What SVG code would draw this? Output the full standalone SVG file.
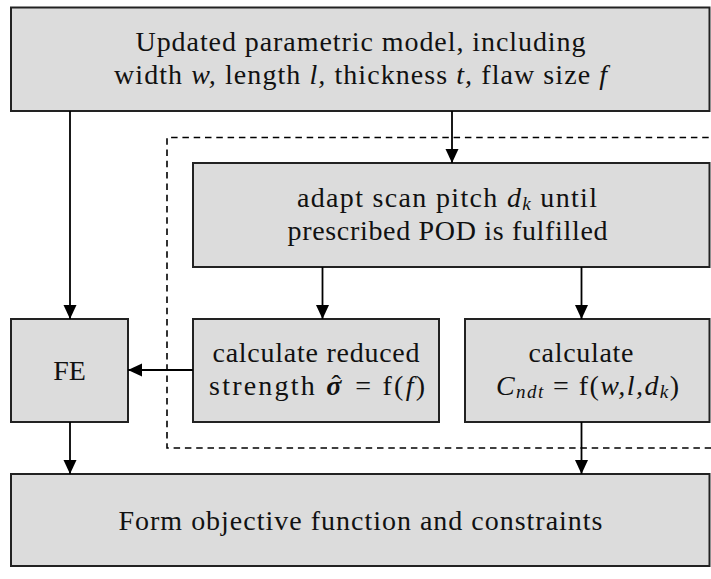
<svg xmlns="http://www.w3.org/2000/svg" width="711" height="579" viewBox="0 0 711 579">
<defs>
<style>
.box{fill:#dcdcdc;stroke:#222;stroke-width:2}
text{font-family:"Liberation Serif","DejaVu Serif",serif;font-size:28px;fill:#111;text-anchor:middle}
.i{font-style:italic}
.sub{font-size:19px;font-style:italic}
.ln{stroke:#000;stroke-width:1.8;fill:none}
.dash{stroke:#000;stroke-width:1.6;fill:none;stroke-dasharray:6.5 4.8}
</style>
<marker id="ah" markerUnits="userSpaceOnUse" markerWidth="14" markerHeight="14" refX="14" refY="6.5" orient="auto">
<path d="M0,0 L14,6.5 L0,13 Z" fill="#000"/>
</marker>
</defs>
<rect width="711" height="579" fill="#fff"/>
<g id="loop">
<path class="dash" d="M720,137.5 H167 V448 H720"/>
</g>
<g id="top">
<rect class="box" x="11" y="7.5" width="698.5" height="103.5"/>
<text x="360.5" y="50.5" textLength="450" lengthAdjust="spacing">Updated parametric model, including</text>
<text x="360.5" y="83.5" textLength="493" lengthAdjust="spacing">width <tspan class="i">w,</tspan> length <tspan class="i">l,</tspan> thickness <tspan class="i">t,</tspan> flaw size <tspan class="i">f</tspan></text>
</g>
<g id="adapt">
<rect class="box" x="193" y="163" width="516.5" height="104"/>
<text x="447" y="206.5" textLength="300" lengthAdjust="spacing">adapt scan pitch <tspan class="i">d</tspan><tspan class="sub" dy="3">k</tspan><tspan dy="-3"> until</tspan></text>
<text x="447.5" y="239.5" textLength="320" lengthAdjust="spacing">prescribed POD is fulfilled</text>
</g>
<g id="fe">
<rect class="box" x="11" y="319" width="117" height="103"/>
<text x="69.5" y="380">FE</text>
</g>
<g id="reduced">
<rect class="box" x="193" y="319" width="246" height="103"/>
<text x="316" y="362" textLength="207" lengthAdjust="spacing">calculate reduced</text>
<text x="317" y="395" textLength="216" lengthAdjust="spacing">strength <tspan font-weight="bold" font-style="italic">σ</tspan><tspan dx="-12" dy="-1">ˆ</tspan><tspan dx="3" dy="1"> = f(</tspan><tspan class="i">f</tspan>)</text>
</g>
<g id="cndt">
<rect class="box" x="465" y="319" width="244.5" height="103"/>
<text x="581" y="362" textLength="105" lengthAdjust="spacing">calculate</text>
<text x="587.5" y="395" textLength="183" lengthAdjust="spacing"><tspan class="i">C</tspan><tspan class="sub" dy="3">ndt</tspan><tspan dy="-3"> = f(</tspan><tspan class="i">w,l,d</tspan><tspan class="sub" dy="3">k</tspan><tspan dy="-3">)</tspan></text>
</g>
<g id="objective">
<rect class="box" x="11" y="474" width="698.5" height="92"/>
<text x="360.5" y="530" textLength="484" lengthAdjust="spacing">Form objective function and constraints</text>
</g>
<g id="connectors">
<line class="ln" x1="70" y1="111" x2="70" y2="319" marker-end="url(#ah)"/>
<line class="ln" x1="452" y1="111" x2="452" y2="163" marker-end="url(#ah)"/>
<line class="ln" x1="322.5" y1="267" x2="322.5" y2="319" marker-end="url(#ah)"/>
<line class="ln" x1="581.5" y1="267" x2="581.5" y2="319" marker-end="url(#ah)"/>
<line class="ln" x1="193" y1="370" x2="128" y2="370" marker-end="url(#ah)"/>
<line class="ln" x1="70" y1="422" x2="70" y2="474" marker-end="url(#ah)"/>
<line class="ln" x1="581.5" y1="422" x2="581.5" y2="474" marker-end="url(#ah)"/>
</g>
</svg>
